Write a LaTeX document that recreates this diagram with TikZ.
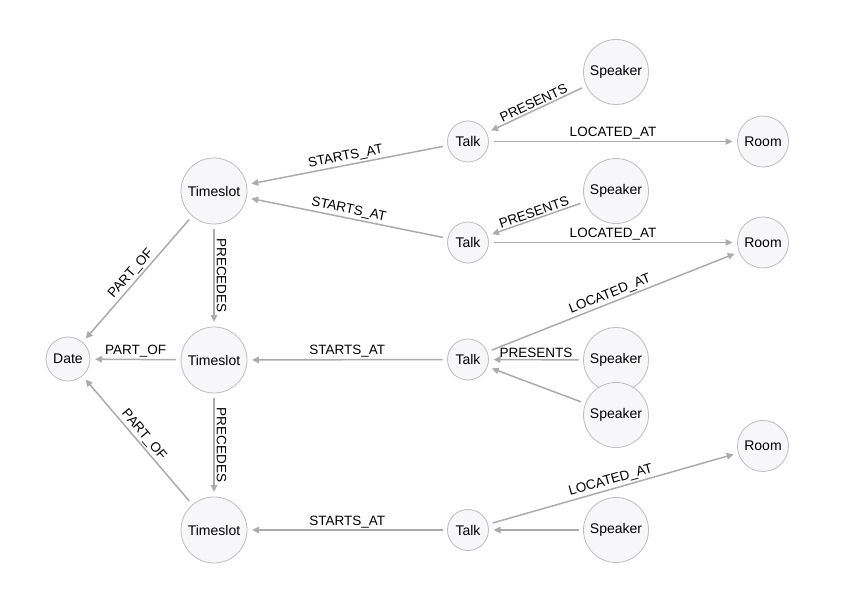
\documentclass[tikz,border=0pt]{standalone}
\usepackage{fontspec}
\setmainfont{Liberation Sans}
\usetikzlibrary{arrows.meta}
\definecolor{nodefill}{HTML}{F7F7F9}
\definecolor{nodeline}{HTML}{BDBDBD}
\definecolor{edgeline}{HTML}{ABABAB}

\begin{document}
\begin{tikzpicture}[x=1pt,y=-1pt,
ent/.style={circle,draw=nodeline,fill=nodefill,line width=0.8pt,inner sep=0pt,outer sep=5pt,font=\fontsize{14}{16}\selectfont},
rel/.style={draw=edgeline,line width=1.5pt,-{Triangle[length=7pt,width=6.5pt]}},
lbl/.style={midway,sloped,above=0.5pt,inner sep=1pt,font=\fontsize{13.5}{15}\selectfont},
vlbl/.style={midway,anchor=south,rotate=-90,inner sep=2pt,font=\fontsize{13.5}{15}\selectfont}]
\useasboundingbox (0,0) rectangle (852,591);

% nodes
\node[ent,minimum size=44pt] (date) at (68,359) {Date};
\foreach \n/\y in {1/191,2/360,3/530}
\node[ent,minimum size=66pt] (ts\n) at (214,\y) {Timeslot};
\foreach \n/\y in {1/141.5,2/242.5,3/359.5,4/530}
\node[ent,minimum size=41pt] (talk\n) at (468,\y) {Talk};
\foreach \n/\y in {1/72,2/191,3/360,4/415,5/530}
\node[ent,minimum size=65pt] (spk\n) at (616,\y) {Speaker};
\foreach \n/\y in {1/141.5,2/242.5,3/446}
\node[ent,minimum size=51pt] (room\n) at (763,\y) {Room};

% relations
\foreach \t/\s in {1/1,2/1,3/2,4/3}
\draw[rel] (talk\t) -- node[lbl]{STARTS\_AT} (ts\s);
\foreach \s in {1,2,3}
\draw[rel] (ts\s) -- node[lbl]{PART\_OF} (date);
\draw[rel] (ts1) -- node[vlbl]{PRECEDES} (ts2);
\draw[rel] (ts2) -- node[vlbl]{PRECEDES} (ts3);
\foreach \s/\t in {1/1,2/2,3/3}
\draw[rel] (spk\s) -- node[lbl]{PRESENTS} (talk\t);
\draw[rel] (spk4) -- (talk3);
\draw[rel] (spk5) -- (talk4);
\foreach \t/\r in {1/1,2/2,3/2,4/3}
\draw[rel] (talk\t) -- node[lbl]{LOCATED\_AT} (room\r);

\end{tikzpicture}
\end{document}
